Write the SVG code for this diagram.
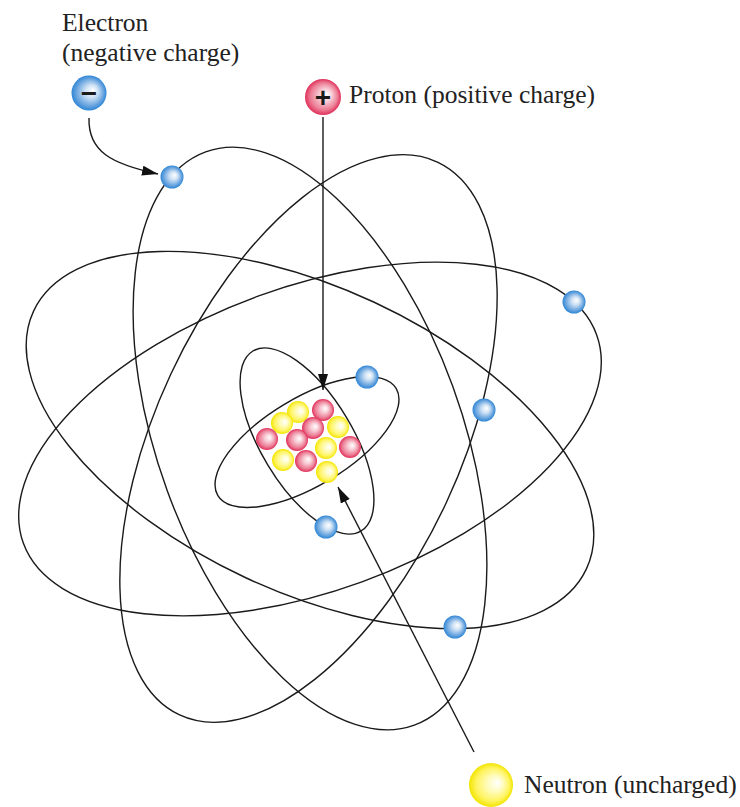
<svg xmlns="http://www.w3.org/2000/svg" width="740" height="807" viewBox="0 0 740 807">
  <defs>
    <radialGradient id="gBlue" cx="0.5" cy="0.5" r="0.5" fx="0.62" fy="0.42">
      <stop offset="0" stop-color="#ffffff"/>
      <stop offset="0.35" stop-color="#cfe2f5"/>
      <stop offset="0.75" stop-color="#6fa8e0"/>
      <stop offset="1" stop-color="#2f86d6"/>
    </radialGradient>
    <radialGradient id="gRed" cx="0.5" cy="0.5" r="0.5" fx="0.62" fy="0.42">
      <stop offset="0" stop-color="#ffffff"/>
      <stop offset="0.35" stop-color="#f8ccd6"/>
      <stop offset="0.75" stop-color="#ec7d95"/>
      <stop offset="1" stop-color="#e0305a"/>
    </radialGradient>
    <radialGradient id="gYellow" cx="0.5" cy="0.5" r="0.5" fx="0.66" fy="0.45">
      <stop offset="0" stop-color="#ffffff"/>
      <stop offset="0.35" stop-color="#fffcc0"/>
      <stop offset="0.75" stop-color="#fff460"/>
      <stop offset="1" stop-color="#f2e400"/>
    </radialGradient>
    <marker id="arrow" markerUnits="userSpaceOnUse" markerWidth="16" markerHeight="10" refX="16" refY="5" orient="auto">
      <path d="M0,0 L16,5 L0,10 Z" fill="#111"/>
    </marker>
    <circle id="e" r="11.5" fill="url(#gBlue)"/>
    <circle id="p" r="11" fill="url(#gRed)"/>
    <circle id="n" r="11" fill="url(#gYellow)"/>
  </defs>
  <style>
    .orbit { fill: none; stroke: #1a1a1a; stroke-width: 1.4; }
    .conn { fill: none; stroke: #1a1a1a; stroke-width: 1.4; }
    .label { font-family: "Liberation Serif", "Times New Roman", serif; font-size: 25.5px; fill: #222; }
    .sign { font-family: "Liberation Sans", Arial, sans-serif; font-weight: bold; fill: #1a1a1a; text-anchor: middle; }
  </style>

  <!-- electron shells -->
  <g id="orbits">
    <ellipse class="orbit" cx="310" cy="439" rx="305" ry="152" transform="rotate(-20 310 439)"/>
    <ellipse class="orbit" cx="310" cy="440" rx="305" ry="152" transform="rotate(25 310 440)"/>
    <ellipse class="orbit" cx="308.5" cy="438.5" rx="305" ry="152" transform="rotate(-65 308.5 438.5)"/>
    <ellipse class="orbit" cx="310" cy="438.5" rx="305" ry="152" transform="rotate(70 310 438.5)"/>
    <ellipse class="orbit" cx="307" cy="442" rx="104" ry="44" transform="rotate(-31 307 442)"/>
    <ellipse class="orbit" cx="307" cy="441" rx="105" ry="46" transform="rotate(59 307 441)"/>
  </g>

  <!-- nucleus: protons and neutrons -->
  <g id="nucleus">
    <use href="#n" x="298" y="412"/>
    <use href="#p" x="323" y="410"/>
    <use href="#n" x="282" y="423"/>
    <use href="#n" x="338" y="427"/>
    <use href="#p" x="313" y="428"/>
    <use href="#p" x="267" y="439"/>
    <use href="#p" x="297" y="440"/>
    <use href="#n" x="326" y="448"/>
    <use href="#p" x="350" y="447"/>
    <use href="#n" x="283" y="460"/>
    <use href="#p" x="306" y="461"/>
    <use href="#n" x="327" y="472"/>
  </g>

  <!-- connectors -->
  <g id="connectors">
    <path class="conn" d="M 89 118 C 88 152, 112 164, 158 174" marker-end="url(#arrow)"/>
    <path class="conn" d="M 323 117 L 323 390" marker-end="url(#arrow)"/>
    <path class="conn" d="M 474 752 L 338 487" marker-end="url(#arrow)"/>
  </g>

  <!-- orbiting electrons -->
  <g id="electrons">
    <use href="#e" x="172" y="177"/>
    <use href="#e" x="574" y="302"/>
    <use href="#e" x="367" y="377"/>
    <use href="#e" x="484" y="410"/>
    <use href="#e" x="326" y="527"/>
    <use href="#e" x="455" y="627"/>
  </g>

  <g id="electron-legend">
    <text class="label" x="62" y="31">Electron</text>
    <text class="label" x="62" y="61">(negative charge)</text>
    <circle cx="89" cy="93" r="17.5" fill="url(#gBlue)"/>
    <text class="sign" x="89" y="102.5" font-size="28">−</text>
  </g>

  <g id="proton-legend">
    <circle cx="323" cy="97" r="18" fill="url(#gRed)"/>
    <text class="sign" x="323" y="106.5" font-size="28">+</text>
    <text class="label" x="349" y="103">Proton (positive charge)</text>
  </g>

  <g id="neutron-legend">
    <circle cx="491" cy="785" r="22" fill="url(#gYellow)"/>
    <text class="label" x="524" y="793">Neutron (uncharged)</text>
  </g>
</svg>
